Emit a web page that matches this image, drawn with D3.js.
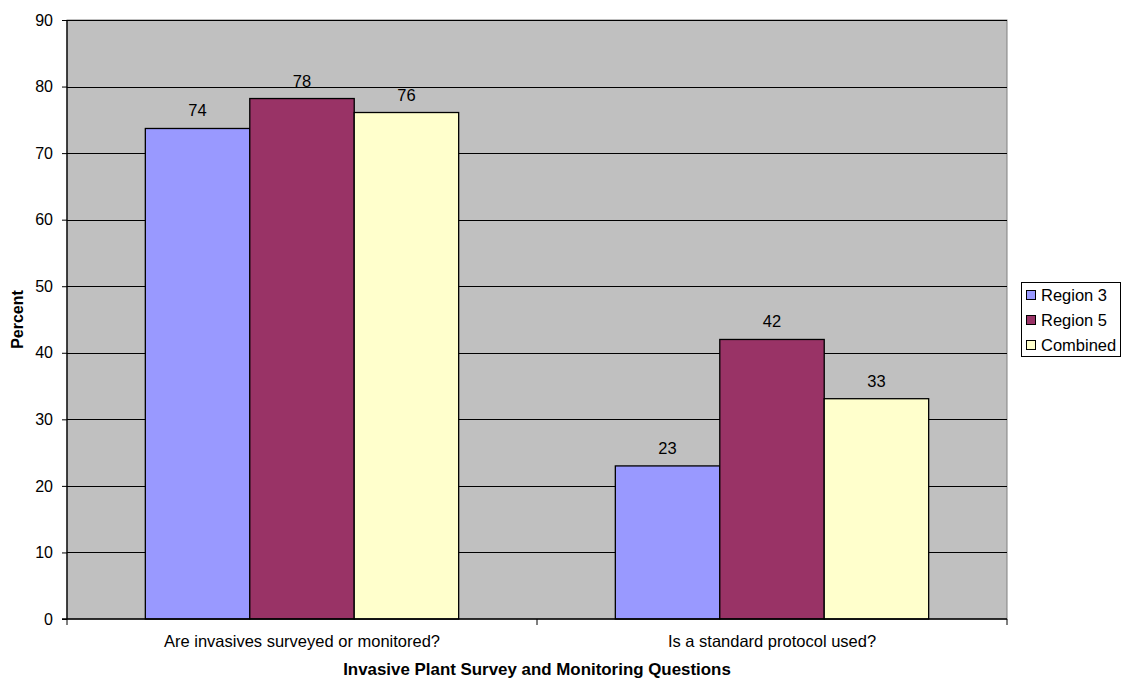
<!DOCTYPE html>
<html><head><meta charset="utf-8">
<script src="https://cdn.jsdelivr.net/npm/d3@7"></script>
<style>body{margin:0;background:#fff}svg{display:block}text{font-family:"Liberation Sans",Arial,sans-serif}</style>
</head><body><svg id="c" width="1124" height="680"></svg>
<script>
const categories = ["Are invasives surveyed or monitored?", "Is a standard protocol used?"];
const seriesNames = ["Region 3", "Region 5", "Combined"];
const region3 = [73.7, 23.0];
const region5 = [78.2, 42.0];
const combined = [76.1, 33.1];
const seriesColors = ["#9999ff", "#993366", "#ffffcc"];
const yTicks = [0,10,20,30,40,50,60,70,80,90];
const yTitle = "Percent";
const xTitle = "Invasive Plant Survey and Monitoring Questions";

const series = [region3, region5, combined];
const svg = d3.select("#c");
const L = 67, R = 1007, T = 20, B = 619;
const FS = 16.5;

const y = d3.scaleLinear().domain([0, 90]).range([B, T]);
const x0 = d3.scaleBand().domain(categories).range([L, R]).paddingInner(0).paddingOuter(0);
// gap width 150% => bars occupy 3/4.5 of the band
const groupW = x0.bandwidth() * 3 / 4.5;
const x1 = d3.scaleBand().domain(seriesNames).range([0, groupW]).padding(0);

// plot area
svg.append("rect").attr("x", L).attr("y", T).attr("width", R - L).attr("height", B - T)
  .attr("fill", "#c0c0c0").attr("stroke", "#808080").attr("stroke-width", 1);

// gridlines
svg.append("g").selectAll("line").data(yTicks.filter(d => d > 0)).join("line")
  .attr("x1", L).attr("x2", R).attr("y1", d => Math.round(y(d)) + 0.5).attr("y2", d => Math.round(y(d)) + 0.5)
  .attr("stroke", "#000").attr("stroke-width", 1);

// bars
const groups = svg.append("g").selectAll("g").data(categories).join("g")
  .attr("transform", d => `translate(${x0(d) + (x0.bandwidth() - groupW) / 2},0)`);
groups.selectAll("rect").data((d, i) => seriesNames.map((s, j) => ({s, j, v: series[j][i]}))).join("rect")
  .attr("x", d => x1(d.s)).attr("width", x1.bandwidth())
  .attr("y", d => y(d.v)).attr("height", d => B - y(d.v))
  .attr("fill", d => seriesColors[d.j]).attr("stroke", "#000").attr("stroke-width", 1.3);
groups.selectAll("text").data((d, i) => seriesNames.map((s, j) => ({s, j, v: series[j][i]}))).join("text")
  .attr("x", d => x1(d.s) + x1.bandwidth() / 2).attr("y", d => y(d.v) - 12)
  .attr("text-anchor", "middle").attr("font-size", FS).attr("fill", "#000")
  .text(d => d3.format(".0f")(d.v));

// y axis
const yAxis = d3.axisLeft(y).tickValues(yTicks).tickSize(5).tickPadding(9);
const yg = svg.append("g").attr("transform", `translate(${L},0)`).call(yAxis);
yg.selectAll("text").attr("font-size", 16).attr("font-family", '"Liberation Sans",Arial,sans-serif').attr("fill", "#000");
yg.select(".domain").attr("d", `M0,${T}V${B}`).attr("stroke", "#000").attr("stroke-width", 1.3);
yg.selectAll(".tick line").attr("stroke", "#000");

// x axis
const xg = svg.append("g").attr("transform", `translate(0,${B})`);
xg.append("line").attr("x1", L - 5).attr("x2", R).attr("y1", 0).attr("y2", 0).attr("stroke", "#000").attr("stroke-width", 1.5);
const sepTicks = [L, ...categories.map(c => x0(c) + x0.bandwidth())];
xg.selectAll("line.t").data(sepTicks).join("line").attr("class", "t")
  .attr("x1", d => d).attr("x2", d => d).attr("y1", 0).attr("y2", 6).attr("stroke", "#000");
xg.selectAll("text").data(categories).join("text")
  .attr("x", d => x0(d) + x0.bandwidth() / 2).attr("y", 28)
  .attr("text-anchor", "middle").attr("font-size", FS).attr("fill", "#000").text(d => d);

// titles
svg.append("text").attr("x", L + (R - L) / 2).attr("y", 675).attr("text-anchor", "middle")
  .attr("font-size", 16.9).attr("font-weight", "bold").text(xTitle);
svg.append("text").attr("transform", `translate(23,${(T + B) / 2}) rotate(-90)`).attr("text-anchor", "middle")
  .attr("font-size", 16).attr("font-weight", "bold").text(yTitle);

// legend
const lg = svg.append("g");
lg.append("rect").attr("x", 1021.5).attr("y", 282.5).attr("width", 99).attr("height", 74)
  .attr("fill", "#fff").attr("stroke", "#000");
const items = lg.selectAll("g").data(seriesNames).join("g")
  .attr("transform", (d, i) => `translate(1026,${295 + i * 25})`);
items.append("rect").attr("x", 0.5).attr("y", -4.5).attr("width", 9).attr("height", 9)
  .attr("fill", (d, i) => seriesColors[i]).attr("stroke", "#000");
items.append("text").attr("x", 15).attr("y", 6).attr("font-size", FS).text(d => d);
</script></body></html>
